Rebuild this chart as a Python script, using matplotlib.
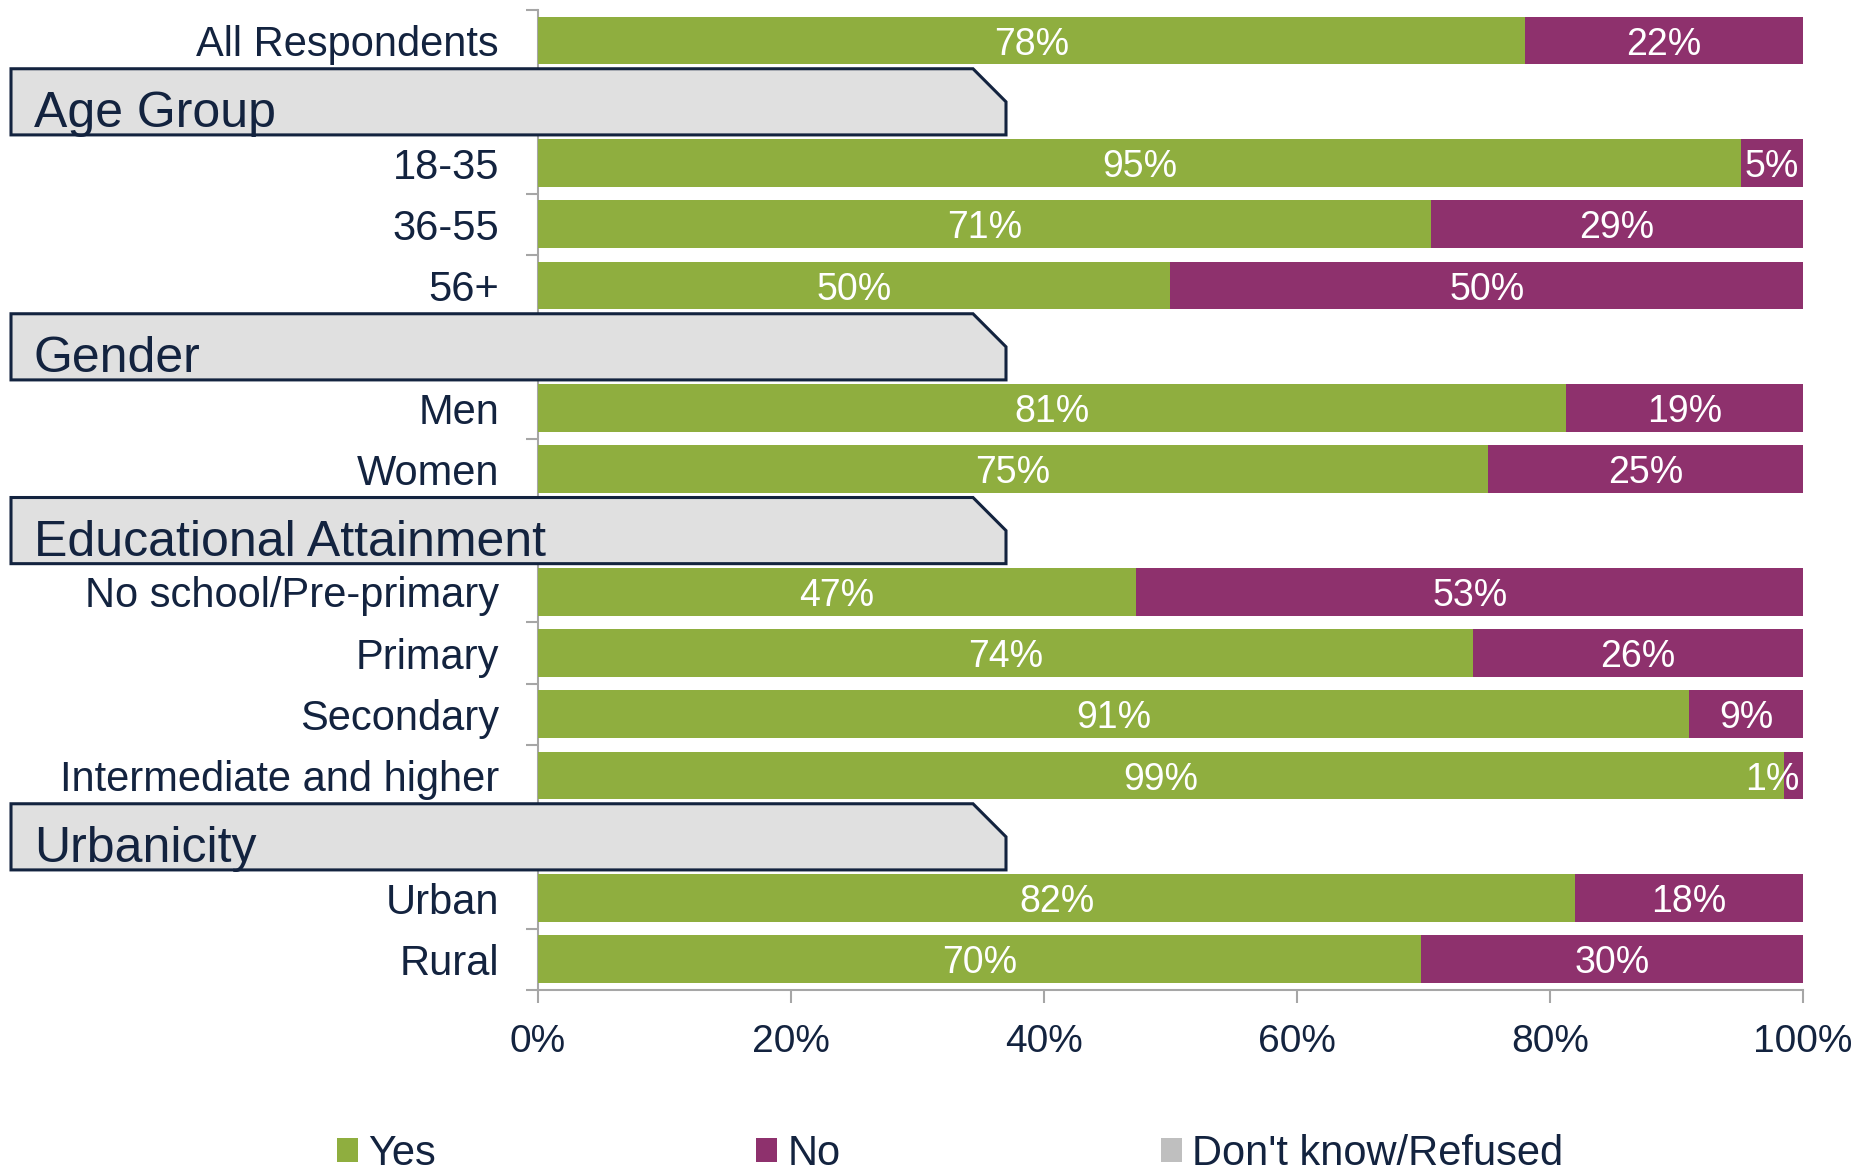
import matplotlib
matplotlib.use("Agg")
import matplotlib.pyplot as plt
from matplotlib.patches import Polygon, Patch
from matplotlib.transforms import blended_transform_factory
import numpy as np

plt.rcParams['font.family'] = ['Liberation Sans', 'DejaVu Sans']

# rows from top to bottom; header rows carry only a group title
row_labels = ["All Respondents", "Age Group", "18-35", "36-55", "56+",
              "Gender", "Men", "Women", "Educational Attainment",
              "No school/Pre-primary", "Primary", "Secondary",
              "Intermediate and higher", "Urbanicity", "Urban", "Rural"]
is_header = [False, True, False, False, False,
             True, False, False, True,
             False, False, False, False, True, False, False]

# bar lengths (share answering yes), for the data rows only
yes_share = [78.0, 95.1, 70.6, 50.0, 81.3, 75.1, 47.3, 73.9, 91.0, 98.5, 82.0, 69.8]
yes_labels = ["78%", "95%", "71%", "50%", "81%", "75%", "47%", "74%", "91%", "99%", "82%", "70%"]
no_labels = ["22%", "5%", "29%", "50%", "19%", "25%", "53%", "26%", "9%", "1%", "18%", "30%"]
dk_share = [0, 0, 0, 0, 0, 0, 0, 0, 0, 0, 0, 0]

green = '#8fae3f'
purple = '#8e316d'
grey = '#bfbfbf'
navy = '#13233f'
spine_grey = '#a6a6a6'

fig = plt.figure(figsize=(18.71, 11.71), dpi=100)
ax = fig.add_axes([0.2875, 0.1546, 0.9637 - 0.2875, 0.9915 - 0.1546])

data_rows = [i for i, h in enumerate(is_header) if not h]
header_rows = [i for i, h in enumerate(is_header) if h]
yes = np.array(yes_share)
no = 100 - yes - np.array(dk_share)

ax.barh(data_rows, yes, height=0.78, color=green, zorder=3)
ax.barh(data_rows, no, left=yes, height=0.78, color=purple, zorder=3)
ax.barh(data_rows, dk_share, left=yes + no, height=0.78, color=grey, zorder=3)

num_fs = 27
lab_fs = 30
for r, y, n, yl, nl in zip(data_rows, yes, no, yes_labels, no_labels):
    ax.text(y / 2, r, yl, ha='center', va='center_baseline', color='white',
            fontsize=num_fs, zorder=4)
    xc = min(y + n / 2, 97.6)
    ax.text(xc, r, nl, ha='center', va='center_baseline', color='white',
            fontsize=num_fs, zorder=4)

ax.set_xlim(0, 100)
ax.set_ylim(len(row_labels) - 0.5, -0.5)

ax.set_yticks(data_rows)
ax.set_yticklabels([row_labels[i] for i in data_rows])
ax.set_yticks(np.arange(-0.5, len(row_labels), 1.0), minor=True)
ax.tick_params(axis='y', which='major', length=0, pad=28, labelsize=lab_fs, labelcolor=navy)
ax.tick_params(axis='y', which='minor', length=9, width=1.5, color=spine_grey, direction='out')

ax.set_xticks([0, 20, 40, 60, 80, 100])
ax.set_xticklabels(['0%', '20%', '40%', '60%', '80%', '100%'])
ax.tick_params(axis='x', length=9.5, width=1.5, color=spine_grey, pad=15,
               labelsize=28, labelcolor=navy)

for s in ['top', 'right']:
    ax.spines[s].set_visible(False)
for s in ['left', 'bottom']:
    ax.spines[s].set_color(spine_grey)
    ax.spines[s].set_linewidth(1.5)

# group header boxes with a clipped top-right corner
trans = blended_transform_factory(fig.transFigure, ax.transData)
x0, x1, xc = 11 / 1871, 1006 / 1871, 973 / 1871
for r in header_rows:
    top, bot = r - 0.54, r + 0.54
    poly = Polygon([(x0, top), (xc, top), (x1, r), (x1, bot), (x0, bot)], closed=True,
                   transform=trans, facecolor='#e0e0e0', edgecolor=navy,
                   linewidth=2.2, clip_on=False, zorder=6)
    ax.add_artist(poly)
    ax.text(34 / 1871, r + 0.41, row_labels[r], transform=trans, ha='left', va='baseline',
            fontsize=36, color=navy, zorder=7, clip_on=False)

handles = [Patch(facecolor=green), Patch(facecolor=purple), Patch(facecolor=grey)]
fig.legend(handles, ['Yes', 'No', "Don't know/Refused"], loc='center left',
           bbox_to_anchor=(337 / 1871, 1 - 1154 / 1171), ncol=3, frameon=False,
           fontsize=lab_fs, labelcolor=navy, handlelength=0.5, handleheight=0.5,
           handletextpad=0.24, columnspacing=7.7, borderpad=0, borderaxespad=0)

fig.savefig('out.png', dpi=100)
